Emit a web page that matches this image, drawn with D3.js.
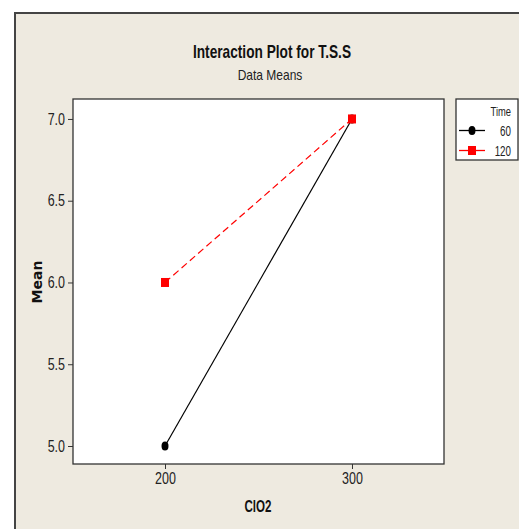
<!DOCTYPE html>
<html>
<head>
<meta charset="utf-8">
<script src="https://cdn.jsdelivr.net/npm/d3@7"></script>
<style>
  html, body { margin: 0; padding: 0; background: #fff; }
  text { font-family: "Liberation Sans", Arial, sans-serif; }
</style>
</head>
<body>
<div id="target_area"></div>
<script>
// data
var clo2Levels = [200, 300];
var timeLevels = ["60", "120"];
var meansTime60 = [5.0, 7.0];
var meansTime120 = [6.0, 7.0];
var yTicks = [5.0, 5.5, 6.0, 6.5, 7.0];

var width = 519, height = 529;
var plot = {left: 73, top: 99, right: 444, bottom: 464};

// squeeze text horizontally so it looks like the narrow font of the original
function narrow(sel, ratio) {
  sel.each(function () {
    var w = this.getComputedTextLength();
    d3.select(this).attr("textLength", w * ratio).attr("lengthAdjust", "spacingAndGlyphs");
  });
}

var svg = d3.select("#target_area")
  .append("svg")
  .attr("width", width)
  .attr("height", height);

// outer frame
svg.append("rect")
  .attr("x", 15).attr("y", 13)
  .attr("width", width).attr("height", height)
  .attr("fill", "#eeeae0")
  .attr("stroke", "#444")
  .attr("stroke-width", 2);

var x = d3.scaleLinear().domain([150.8, 349.2]).range([plot.left, plot.right]);
var y = d3.scaleLinear().domain([4.89, 7.122]).range([plot.bottom, plot.top]);

// plot area
svg.append("rect")
  .attr("x", plot.left).attr("y", plot.top)
  .attr("width", plot.right - plot.left).attr("height", plot.bottom - plot.top)
  .attr("fill", "#fff")
  .attr("stroke", "#333")
  .attr("stroke-width", 1.3);

// axes
var yAxis = svg.append("g")
  .attr("transform", "translate(" + plot.left + ",0)")
  .call(d3.axisLeft(y).tickValues(yTicks).tickFormat(d3.format(".1f")).tickSize(5).tickPadding(3));
var xAxis = svg.append("g")
  .attr("transform", "translate(0," + plot.bottom + ")")
  .call(d3.axisBottom(x).tickValues(clo2Levels).tickSize(5).tickPadding(4));
[xAxis, yAxis].forEach(function (a) {
  a.select(".domain").remove();
  a.selectAll("line").attr("stroke", "#333");
  a.selectAll("text").attr("font-size", 16).attr("fill", "#222")
    .style("font-family", '"Liberation Sans", Arial, sans-serif');
  narrow(a.selectAll("text"), 0.78);
});

// titles
svg.append("text")
  .attr("x", 272).attr("y", 58)
  .attr("text-anchor", "middle")
  .attr("font-size", 19).attr("font-weight", "bold").attr("fill", "#111")
  .text("Interaction Plot for T.S.S")
  .call(narrow, 0.72);
svg.append("text")
  .attr("x", 270).attr("y", 80)
  .attr("text-anchor", "middle")
  .attr("font-size", 15).attr("fill", "#222")
  .text("Data Means")
  .call(narrow, 0.8);
svg.append("text")
  .attr("transform", "translate(42,282) rotate(-90)")
  .attr("text-anchor", "middle")
  .attr("font-size", 14).attr("font-weight", "bold").attr("fill", "#111")
  .style("font-family", '"DejaVu Sans", sans-serif')
  .text("Mean");
svg.append("text")
  .attr("x", 258).attr("y", 512)
  .attr("text-anchor", "middle")
  .attr("font-size", 17).attr("font-weight", "bold").attr("fill", "#111")
  .text("ClO2")
  .call(narrow, 0.68);

// series
var series = [
  {name: timeLevels[0], values: meansTime60, color: "#000", dash: null, shape: "circle"},
  {name: timeLevels[1], values: meansTime120, color: "#ff0000", dash: "7,4", shape: "square"}
];

var line = d3.line()
  .x(function (d, i) { return x(clo2Levels[i]); })
  .y(function (d) { return y(d); });

function drawMarker(g, s, cx, cy) {
  if (s.shape === "circle") {
    g.append("ellipse").attr("cx", cx).attr("cy", cy).attr("rx", 3.5).attr("ry", 4.5).attr("fill", s.color);
  } else {
    g.append("rect").attr("x", cx - 4).attr("y", cy - 4.5).attr("width", 8).attr("height", 9).attr("fill", s.color);
  }
}

series.forEach(function (s) {
  svg.append("path")
    .datum(s.values)
    .attr("d", line)
    .attr("fill", "none")
    .attr("stroke", s.color)
    .attr("stroke-width", 1.2)
    .attr("stroke-dasharray", s.dash);
});
series.forEach(function (s) {
  var g = svg.append("g");
  s.values.forEach(function (v, i) { drawMarker(g, s, x(clo2Levels[i]), y(v)); });
});

// legend
var legend = svg.append("g");
legend.append("rect")
  .attr("x", 456).attr("y", 99).attr("width", 62).attr("height", 61)
  .attr("fill", "#fff").attr("stroke", "#333").attr("stroke-width", 1.3);
legend.append("text")
  .attr("x", 511).attr("y", 116)
  .attr("text-anchor", "end").attr("font-size", 13).attr("fill", "#222")
  .text("Time")
  .call(narrow, 0.72);
series.forEach(function (s, i) {
  var ly = 130.5 + i * 20;
  legend.append("line")
    .attr("x1", 459).attr("x2", 485).attr("y1", ly).attr("y2", ly)
    .attr("stroke", s.color).attr("stroke-width", 1.3);
  drawMarker(legend, s, 472, ly);
  legend.append("text")
    .attr("x", 511).attr("y", ly + 5)
    .attr("text-anchor", "end").attr("font-size", 14).attr("fill", "#222")
    .text(s.name)
    .call(narrow, 0.7);
});
</script>
</body>
</html>
